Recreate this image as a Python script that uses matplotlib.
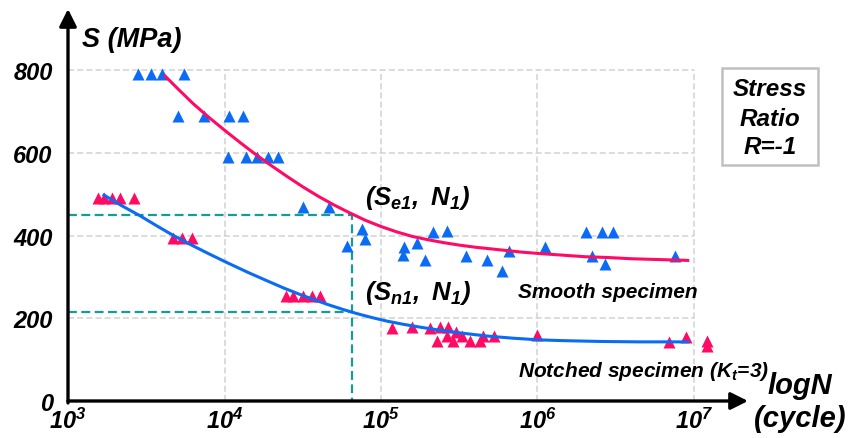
import numpy as np
import matplotlib
matplotlib.use("Agg")
import matplotlib.pyplot as plt
from matplotlib.patches import Rectangle

plt.rcParams['font.family'] = ['Liberation Sans', 'DejaVu Sans']
plt.rcParams['font.weight'] = 'bold'
plt.rcParams['font.style'] = 'italic'
plt.rcParams['mathtext.fontset'] = 'custom'
plt.rcParams['mathtext.rm'] = 'Liberation Sans:bold:italic'
plt.rcParams['mathtext.it'] = 'Liberation Sans:bold:italic'
plt.rcParams['mathtext.bf'] = 'Liberation Sans:bold:italic'

# smooth specimen data (log10 N, S in MPa)
smooth_logN = [3.45, 3.53, 3.60, 3.74,
               3.70, 3.87, 4.03, 4.12,
               4.02, 4.14, 4.21, 4.28, 4.34,
               4.50, 4.67,
               4.78, 4.88, 4.90,
               5.15, 5.14, 5.23, 5.28, 5.33, 5.42,
               5.54, 5.68, 5.77, 5.82, 6.05,
               6.31, 6.41, 6.48, 6.35, 6.43, 6.88]
smooth_S = [790, 790, 790, 790,
            690, 690, 690, 690,
            590, 590, 590, 590, 590,
            470, 470,
            375, 415, 392,
            372, 353, 382, 341, 409, 411,
            351, 341, 314, 363, 372,
            409, 409, 409, 351, 331, 351]

# notched specimen data
notch_logN = [3.19, 3.23, 3.28, 3.33, 3.42,
              3.67, 3.73, 3.79,
              4.39, 4.44, 4.50, 4.56, 4.61,
              5.07, 5.20, 5.31, 5.38, 5.43, 5.48,
              5.36, 5.42, 5.46, 5.52, 5.57, 5.65, 5.63, 5.72,
              6.00, 6.84, 6.95, 7.08, 7.08]
notch_S = [490, 490, 490, 490, 490,
           394, 394, 394,
           255, 255, 255, 255, 255,
           177, 179, 177, 179, 179, 167,
           145, 157, 145, 157, 145, 157, 145, 157,
           160, 143, 155, 145, 133]

# fitted S-N curves
fit_smooth_logN = [3.62, 3.71, 3.80, 3.90, 4.00, 4.10, 4.20, 4.30, 4.40, 4.50,
                   4.60, 4.70, 4.80, 4.90, 5.00, 5.10, 5.20, 5.30, 5.40, 5.50,
                   5.60, 5.70, 5.80, 5.90, 6.00, 6.15, 6.30, 6.45, 6.60, 6.78, 6.96]
fit_smooth_S = [786, 752, 719, 686, 655, 625, 596, 569, 543, 518,
                495, 474, 455, 437, 422, 409, 398, 390, 383, 377,
                372, 368, 364, 360, 357, 353, 349, 347, 344, 342, 340]
fit_notch_logN = [3.23, 3.34, 3.46, 3.57, 3.67, 3.80, 3.90, 4.02, 4.15, 4.27,
                  4.38, 4.48, 4.58, 4.67, 4.76, 4.85, 4.94, 5.04, 5.15, 5.26,
                  5.38, 5.52, 5.68, 5.84, 6.00, 6.16, 6.40, 6.65, 6.96]
fit_notch_S = [498, 473, 448, 423, 401, 375, 356, 334, 311, 291,
               273, 258, 244, 232, 221, 211, 202, 193, 185, 178,
               171, 164, 157, 152, 148, 146, 144, 143, 143]

N1 = 4.815
Se1 = 450
Sn1 = 215

yticks = [0, 200, 400, 600, 800]
xticks = [3, 4, 5, 6, 7]

blue = '#0a6cf5'
red = '#ff0a64'
teal = '#169c98'

fig = plt.figure(figsize=(8.54, 4.39), dpi=100)
ax = fig.add_axes([68 / 854, 37 / 439, (748 - 68) / 854, (402 - 10) / 439])
ax.set_xlim(3, 3 + 680 / 156.5)
ax.set_ylim(0, 392 / 0.4135)

# grid limited to the data box
for y in yticks[1:]:
    ax.plot([3, 7], [y, y], color='#d2d2d2', lw=1.1, ls=(0, (4, 2)), zorder=1)
for x in xticks[1:]:
    ax.plot([x, x], [0, 800], color='#d2d2d2', lw=1.1, ls=(0, (4, 2)), zorder=1)

# guides for (S, N1)
ax.plot([3, N1, N1], [Se1, Se1, 0], color=teal, lw=1.6, ls=(0, (4, 2)), zorder=2)
ax.plot([3, N1], [Sn1, Sn1], color=teal, lw=1.6, ls=(0, (4, 2)), zorder=2)

ax.plot(smooth_logN, smooth_S, '^', color=blue, ms=8.5, mec='none', zorder=3)
ax.plot(notch_logN, notch_S, '^', color=red, ms=8.5, mec='none', zorder=3)
ax.plot(fit_smooth_logN, fit_smooth_S, color=red, lw=2.2, zorder=4,
        solid_joinstyle='round')
ax.plot(fit_notch_logN, fit_notch_S, color=blue, lw=2.2, zorder=4,
        solid_joinstyle='round')

for s in ax.spines.values():
    s.set_visible(False)
ax.set_yticks(yticks)
ax.set_yticklabels([str(v) for v in yticks], fontsize=17, fontweight='bold', style='italic')
ax.set_xticks(xticks)
ax.set_xticklabels([r'$10^{%d}$' % v for v in xticks], fontsize=17)
ax.tick_params(length=0, axis='y', pad=11)
ax.tick_params(length=0, axis='x', pad=5)

# arrow axes
ax.annotate('', xy=(1.0, 0), xytext=(0, 0), xycoords='axes fraction',
            arrowprops=dict(arrowstyle='-|>', color='k', lw=2.4, mutation_scale=26,
                            shrinkA=0, shrinkB=0), annotation_clip=False)
ax.annotate('', xy=(0, 1.0), xytext=(0, -0.005), xycoords='axes fraction',
            arrowprops=dict(arrowstyle='-|>', color='k', lw=2.4, mutation_scale=26,
                            shrinkA=0, shrinkB=0), annotation_clip=False)

# labels
fig.text(82 / 854, 1 - 40 / 439, 'S (MPa)', fontsize=19.5, va='center', ha='left')
fig.text(800 / 854, 1 - 386 / 439, 'logN', fontsize=21, va='center', ha='center')
fig.text(800 / 854, 1 - 419 / 439, '(cycle)', fontsize=21, va='center', ha='center')

ax.text(4.90, 493, r'$(S_{e1},\ N_{1})$', fontsize=18.5, va='center', ha='left')
ax.text(4.90, 264, r'$(S_{n1},\ N_{1})$', fontsize=18.5, va='center', ha='left')
ax.text(3 + (518 - 68) / 156.5, (402 - 292) / 0.4135, 'Smooth specimen', fontsize=15,
        va='center', ha='left')
ax.text(3 + (518 - 68) / 156.5, (402 - 372) / 0.4135, r'Notched specimen ($K_{t}$=3)',
        fontsize=15, va='center', ha='left')

fig.patches.append(Rectangle((722 / 854, 1 - 166 / 439), 96 / 854, 97 / 439,
                             transform=fig.transFigure, fill=False,
                             edgecolor='#c0c0c0', lw=1.8))
for txt, yp in [('Stress', 90), ('Ratio', 119), ('R=-1', 147)]:
    fig.text(770 / 854, 1 - yp / 439, txt, fontsize=17.5, va='center', ha='center')

fig.savefig('out.png', dpi=100)
